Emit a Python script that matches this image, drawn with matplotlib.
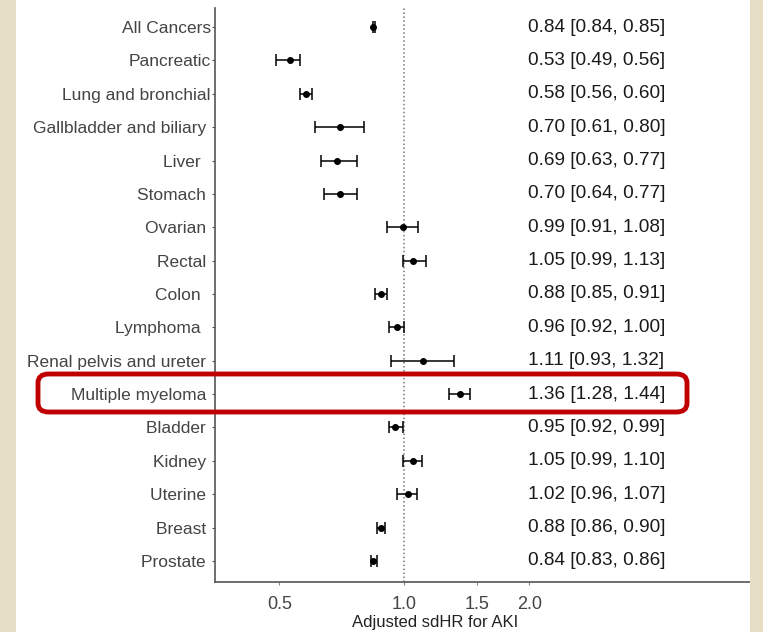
import matplotlib.pyplot as plt
from matplotlib.patches import FancyBboxPatch, Rectangle
import numpy as np

plt.rcParams['font.family'] = ['Liberation Sans', 'DejaVu Sans']

# datos
cancers = ['All Cancers', 'Pancreatic', 'Lung and bronchial', 'Gallbladder and biliary ',
           'Liver  ', 'Stomach ', 'Ovarian ', 'Rectal ', 'Colon  ', 'Lymphoma  ',
           'Renal pelvis and ureter ', 'Multiple myeloma ', 'Bladder ', 'Kidney ',
           'Uterine ', 'Breast ', 'Prostate ']
hr = [0.84, 0.53, 0.58, 0.70, 0.69, 0.70, 0.99, 1.05, 0.88, 0.96,
      1.11, 1.36, 0.95, 1.05, 1.02, 0.88, 0.84]
lo = [0.84, 0.49, 0.56, 0.61, 0.63, 0.64, 0.91, 0.99, 0.85, 0.92,
      0.93, 1.28, 0.92, 0.99, 0.96, 0.86, 0.83]
hi = [0.85, 0.56, 0.60, 0.80, 0.77, 0.77, 1.08, 1.13, 0.91, 1.00,
      1.32, 1.44, 0.99, 1.10, 1.07, 0.90, 0.86]
xticks = [0.5, 1.0, 1.5, 2.0]
xtick_labels = ['0.5', '1.0', '1.5', '2.0']

beige = '#e6dec5'
label_grey = '#444444'

fig = plt.figure(figsize=(7.63, 6.32), dpi=100)
fig.patch.set_facecolor('white')

# bandas beige a los lados
fig.patches.append(Rectangle((0, 0), 16 / 763, 1, transform=fig.transFigure,
                             facecolor=beige, edgecolor='none', zorder=0))
fig.patches.append(Rectangle((750 / 763, 0), 13 / 763, 1, transform=fig.transFigure,
                             facecolor=beige, edgecolor='none', zorder=0))

ax = fig.add_axes([215 / 763, 1 - 582 / 632, (750 - 215) / 763, (582 - 8) / 632])
ax.set_facecolor('none')

y = np.arange(len(cancers))
hr_a = np.array(hr)
err = np.vstack([hr_a - np.array(lo), np.array(hi) - hr_a])

ax.axvline(1.0, color='#777777', linestyle=(0, (1, 1.6)), linewidth=1.1, zorder=1)
ax.errorbar(hr, y, xerr=err, fmt='o', color='black', markersize=4,
            elinewidth=1.1, capsize=4, capthick=1.1, zorder=3)

ax.set_xscale('log')
ax.set_xlim(0.35, 6.8)
ax.set_ylim(len(cancers) - 0.37, -0.57)
ax.set_xticks(xticks)
ax.set_xticklabels(xtick_labels)
ax.xaxis.set_minor_locator(plt.NullLocator())
ax.set_yticks(y)
ax.set_yticklabels(cancers)

ax.tick_params(axis='y', length=2, width=0.8, color='#555555', labelsize=12.5,
               labelcolor=label_grey, pad=1)
ax.tick_params(axis='x', length=2, width=0.8, color='#888888', labelsize=13,
               labelcolor=label_grey, pad=8)
ax.set_xlabel('Adjusted sdHR for AKI', fontsize=12, color='#222222')
ax.xaxis.set_label_coords((435 - 215) / 535, -(622 - 582) / 574, transform=ax.transAxes)
ax.xaxis.label.set_va('center')

for side in ['top', 'right']:
    ax.spines[side].set_visible(False)
for side in ['left', 'bottom']:
    ax.spines[side].set_color('#555555')
    ax.spines[side].set_linewidth(1.2)

# texto de estimaciones a la derecha
for i in range(len(cancers)):
    ax.text(1.98, y[i], '%.2f [%.2f, %.2f]' % (hr[i], lo[i], hi[i]),
            fontsize=13.7, color='#1a1a1a', ha='left', va='center')

# recuadro rojo de mieloma múltiple
box = FancyBboxPatch((38 / 763, 1 - 412 / 632), (687 - 38) / 763, 38 / 632,
                     boxstyle='round,pad=0,rounding_size=0.014',
                     transform=fig.transFigure, facecolor='none',
                     edgecolor='#c00000', linewidth=3.5, zorder=10)
fig.patches.append(box)

plt.savefig('out.png', dpi=100, facecolor=fig.get_facecolor())
plt.close()
